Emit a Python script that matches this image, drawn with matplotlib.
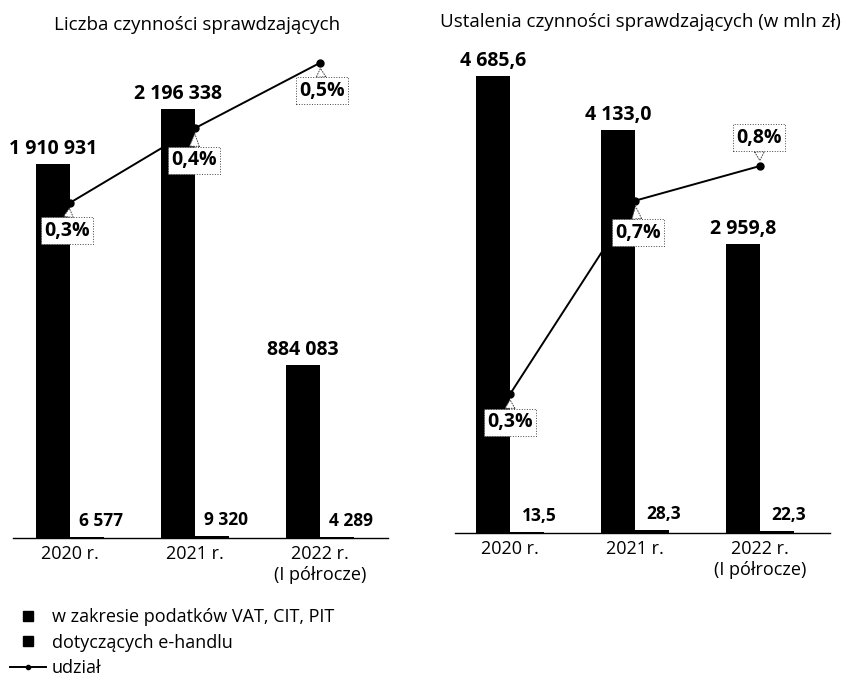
import matplotlib
matplotlib.use("Agg")
import matplotlib.pyplot as plt
from matplotlib.lines import Line2D

plt.rcParams['font.family'] = ['Open Sans', 'DejaVu Sans']

# dane
lata = ['2020 r.', '2021 r.', '2022 r.\n(I półrocze)']
liczba_vat = [1910931, 2196338, 884083]
liczba_ehandel = [6577, 9320, 4289]
liczba_udzial = [0.34, 0.42, 0.49]
liczba_udzial_txt = ['0,3%', '0,4%', '0,5%']

kwota_vat = [4685.6, 4133.0, 2959.8]
kwota_ehandel = [13.5, 28.3, 22.3]
kwota_udzial = [0.29, 0.68, 0.75]
kwota_udzial_txt = ['0,3%', '0,7%', '0,8%']

W, H = 846, 679


def fmt_int(v):
    return f"{v:,}".replace(",", " ")


def fmt_dec(v):
    return f"{v:,.1f}".replace(",", " ").replace(".", ",")


def panel(rect, xlim, ylim, ylim2, vat, eh, udzial, udzial_txt, fmt, label_offsets, eh_dx):
    ax = plt.axes(rect)
    x = list(range(len(vat)))
    bw = 0.272
    xv = [i - bw / 2 for i in x]
    xe = [i + bw / 2 for i in x]
    ax.bar(xv, vat, width=bw, color='black')
    ax.bar(xe, eh, width=bw, color='black')
    for xi, v in zip(xv, vat):
        ax.annotate(fmt(v), (xi, v), xytext=(0, 15), textcoords='offset pixels',
                    ha='center', va='center', fontsize=14, fontweight='bold')
    for xi, v in zip(xe, eh):
        ax.annotate(fmt(v), (xi, v), xytext=(eh_dx, 16), textcoords='offset pixels',
                    ha='center', va='center', fontsize=12.5, fontweight='bold')
    ax.set_xlim(*xlim)
    ax.set_ylim(*ylim)
    ax.set_xticks(x)
    ax.set_xticklabels(lata, fontsize=13, linespacing=1.2)
    ax.tick_params(axis='x', length=0, pad=5)
    ax.set_yticks([])
    for s in ['top', 'left', 'right']:
        ax.spines[s].set_visible(False)
    ax.spines['bottom'].set_linewidth(1.0)

    ax2 = ax.twinx()
    ax2.plot(x, udzial, color='black', lw=1.4, marker='o', markersize=5, clip_on=False)
    ax2.set_ylim(*ylim2)
    ax2.set_yticks([])
    for s in ax2.spines.values():
        s.set_visible(False)
    for xi, v, t, (dx, dy) in zip(x, udzial, udzial_txt, label_offsets):
        ax2.annotate(t, (xi, v), xytext=(dx, dy), textcoords='offset pixels',
                     ha='center', va='center', fontsize=14, fontweight='bold',
                     bbox=dict(boxstyle='square,pad=0.18', fc='white', ec='#444444',
                               lw=0.7, ls=':'),
                     arrowprops=dict(arrowstyle='wedge,tail_width=0.5', fc='white',
                                     ec='#444444', lw=0.7, ls=':', shrinkA=0, shrinkB=4))
    return ax, ax2


fig = plt.figure(figsize=(W / 100, H / 100), dpi=100)

# lewy panel
panel([13 / W, (H - 538) / H, 375 / W, 498 / H],
      (-0.456, 2.544), (0, 2547000), (-0.0193, 0.5145),
      liczba_vat, liczba_ehandel, liczba_udzial, liczba_udzial_txt, fmt_int,
      [(-3, -28), (-1, -32), (2, -28)], 14)

# prawy panel
panel([455 / W, (H - 533) / H, 375 / W, 493 / H],
      (-0.44, 2.56), (0, 5056), (0.0101, 1.004),
      kwota_vat, kwota_ehandel, kwota_udzial, kwota_udzial_txt, fmt_dec,
      [(0, -28), (3, -32), (-1, 28)], 12)

fig.text(197 / W, 1 - 25 / H, 'Liczba czynności sprawdzających',
         ha='center', va='center', fontsize=13.5)
fig.text(640 / W, 1 - 22 / H, 'Ustalenia czynności sprawdzających (w mln zł)',
         ha='center', va='center', fontsize=13.5)

handles = [
    Line2D([], [], marker='s', color='black', ls='none', markersize=7),
    Line2D([], [], marker='s', color='black', ls='none', markersize=7),
    Line2D([], [], marker='o', color='black', lw=1.4, markersize=3),
]
labels = ['w zakresie podatków VAT, CIT, PIT', 'dotyczących e-handlu', 'udział']
fig.legend(handles, labels, loc='upper left', bbox_to_anchor=(10 / W, 1 - 608 / H),
           frameon=False, fontsize=13, handlelength=2.0, handletextpad=0.3,
           labelspacing=0.42, borderaxespad=0, borderpad=0)

fig.savefig('out.png', dpi=100)
